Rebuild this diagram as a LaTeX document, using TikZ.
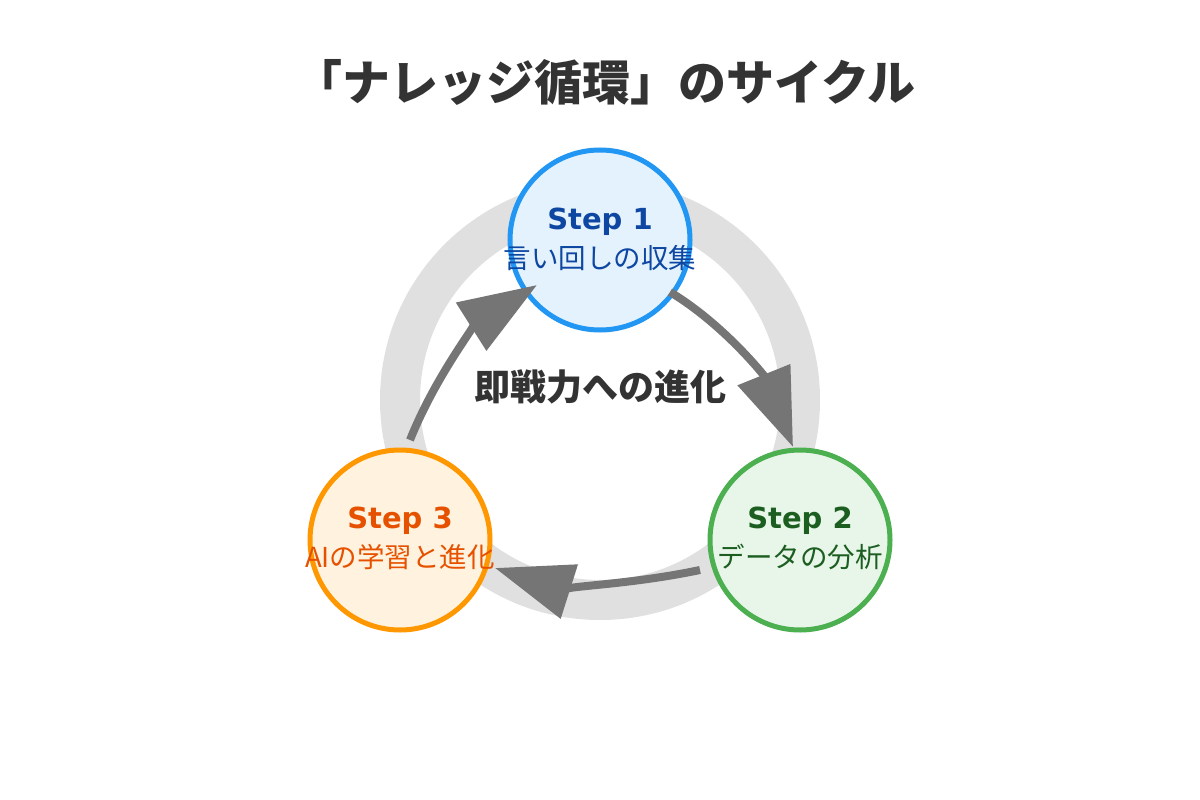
\documentclass[tikz,border=0pt]{standalone}
\usepackage{fontspec}
\setmainfont{Noto Sans CJK JP}
\newfontfamily\latinbold{DejaVu Sans}
\usetikzlibrary{arrows.meta,calc}
\definecolor{ringgray}{HTML}{E0E0E0}
\definecolor{arrowgray}{HTML}{757575}
\definecolor{titlec}{HTML}{333333}
\definecolor{bluestroke}{HTML}{2196F3}
\definecolor{bluefill}{HTML}{E3F2FD}
\definecolor{bluetext}{HTML}{0D47A1}
\definecolor{greenstroke}{HTML}{4CAF50}
\definecolor{greenfill}{HTML}{E8F5E9}
\definecolor{greentext}{HTML}{1B5E20}
\definecolor{orangestroke}{HTML}{FF9800}
\definecolor{orangefill}{HTML}{FFF3E0}
\definecolor{orangetext}{HTML}{E65100}
\tikzset{
  stepcircle/.style={circle, minimum size=180pt, inner sep=0pt, line width=5pt},
  steplabel/.style={anchor=base, inner sep=0pt, font=\latinbold\bfseries\fontsize{29}{32}\selectfont},
  stepdesc/.style={anchor=base, inner sep=0pt, font=\fontsize{27.5}{32}\selectfont},
  cyclearrow/.style={draw=arrowgray, line width=8pt, -{Triangle[length=78pt,width=55pt]}, fill=none},
}
\begin{document}
\begin{tikzpicture}[x=1pt,y=-1pt]
\useasboundingbox (0,0) rectangle (1200,800);
\fill[white] (0,0) rectangle (1200,800);
% title
\node[text=titlec, font=\bfseries\fontsize{48}{54}\selectfont, inner sep=0pt] (title) at (605,82) {「ナレッジ循環」のサイクル};
% ring
\coordinate (c) at (600,400);
\draw[ringgray, line width=40pt] (c) circle[radius=200];
% step circles
\node[stepcircle, draw=bluestroke, fill=bluefill] (s1) at (600,240) {};
\node[stepcircle, draw=greenstroke, fill=greenfill] (s2) at (800,540) {};
\node[stepcircle, draw=orangestroke, fill=orangefill] (s3) at (400,540) {};
% arrows
\draw[cyclearrow] ($(s1)+(70,52)$) .. controls (723.3,324) and (764.3,375.7) .. ($(s2)+(-7,-93)$);
\draw[cyclearrow] ($(s2)+(-100,30)$) .. controls (620,586.7) and (551.7,586) .. ($(s3)+(95,28)$);
\draw[cyclearrow] ($(s3)+(10,-100)$) .. controls (436.7,373.3) and (479,321.7) .. ($(s1)+(-63,45)$);
% center text
\node[text=titlec, font=\bfseries\fontsize{36}{42}\selectfont, inner sep=0pt] (center) at (600,387) {即戦力への進化};
% labels
\node[steplabel, text=bluetext] (s1t) at ($(s1)+(0,-11)$) {Step 1};
\node[stepdesc, text=bluetext] (s1d) at ($(s1)+(0,28)$) {言い回しの収集};
\node[steplabel, text=greentext] (s2t) at ($(s2)+(0,-12)$) {Step 2};
\node[stepdesc, text=greentext] (s2d) at ($(s2)+(0,27)$) {データの分析};
\node[steplabel, text=orangetext] (s3t) at ($(s3)+(0,-12)$) {Step 3};
\node[stepdesc, text=orangetext] (s3d) at ($(s3)+(0,27)$) {AIの学習と進化};
\end{tikzpicture}
\end{document}
